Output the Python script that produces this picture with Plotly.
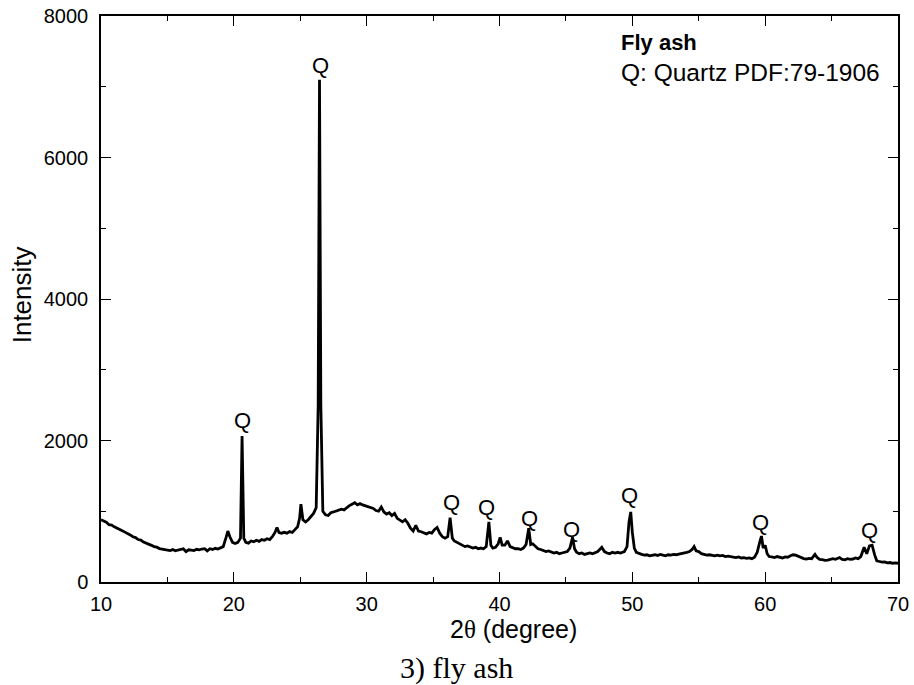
import plotly.graph_objects as go

# XRD pattern of fly ash (2theta in degrees, intensity in counts)
two_theta = [
    10.0, 10.2, 10.4, 10.6, 10.8, 11.0, 11.2, 11.4, 11.6, 11.8,
    12.0, 12.2, 12.4, 12.6, 12.8, 13.0, 13.2, 13.4, 13.6, 13.8,
    14.0, 14.2, 14.4, 14.6, 14.8, 15.0, 15.2, 15.4, 15.6, 15.8,
    16.0, 16.2, 16.4, 16.6, 16.8, 17.0, 17.2, 17.4, 17.6, 17.8,
    18.0, 18.2, 18.4, 18.6, 18.8, 19.0, 19.2, 19.4, 19.55, 19.7,
    19.9, 20.1, 20.3, 20.5, 20.62, 20.75, 20.9, 21.1, 21.3, 21.5,
    21.7, 21.9, 22.1, 22.3, 22.5, 22.7, 22.9, 23.1, 23.25, 23.4,
    23.6, 23.8, 24.0, 24.2, 24.4, 24.6, 24.8, 24.95, 25.05, 25.2,
    25.4, 25.6, 25.8, 26.0, 26.2, 26.35, 26.45, 26.55, 26.7, 26.9,
    27.1, 27.3, 27.5, 27.7, 27.9, 28.1, 28.3, 28.5, 28.7, 28.9,
    29.1, 29.3, 29.5, 29.7, 29.9, 30.1, 30.3, 30.5, 30.7, 30.9,
    31.1, 31.3, 31.5, 31.7, 31.9, 32.1, 32.3, 32.5, 32.7, 32.9,
    33.1, 33.3, 33.5, 33.7, 33.9, 34.1, 34.3, 34.5, 34.7, 34.9,
    35.1, 35.3, 35.5, 35.7, 35.9, 36.1, 36.28, 36.45, 36.6, 36.8,
    37.0, 37.2, 37.4, 37.6, 37.8, 38.0, 38.2, 38.4, 38.6, 38.8,
    39.0, 39.2, 39.35, 39.5, 39.7, 39.9, 40.05, 40.2, 40.4, 40.6,
    40.8, 41.0, 41.2, 41.4, 41.6, 41.8, 42.0, 42.2, 42.35, 42.5,
    42.7, 42.9, 43.1, 43.3, 43.5, 43.7, 43.9, 44.1, 44.3, 44.5,
    44.7, 44.9, 45.1, 45.3, 45.5, 45.65, 45.8, 46.0, 46.2, 46.4,
    46.6, 46.8, 47.0, 47.2, 47.4, 47.7, 47.9, 48.1, 48.3, 48.5,
    48.7, 48.9, 49.1, 49.4, 49.6, 49.75, 49.88, 50.0, 50.15, 50.3,
    50.5, 50.7, 50.9, 51.1, 51.3, 51.5, 51.7, 51.9, 52.1, 52.3,
    52.5, 52.7, 52.9, 53.1, 53.3, 53.5, 53.7, 53.9, 54.1, 54.3,
    54.5, 54.65, 54.8, 55.0, 55.2, 55.4, 55.6, 55.8, 56.0, 56.2,
    56.4, 56.6, 56.8, 57.0, 57.2, 57.4, 57.6, 57.8, 58.0, 58.2,
    58.4, 58.6, 58.8, 59.0, 59.2, 59.4, 59.6, 59.72, 59.85, 60.0,
    60.15, 60.3, 60.5, 60.7, 60.9, 61.1, 61.3, 61.5, 61.7, 61.9,
    62.1, 62.3, 62.5, 62.7, 62.9, 63.1, 63.3, 63.5, 63.75, 63.9,
    64.1, 64.3, 64.5, 64.7, 64.9, 65.1, 65.3, 65.6, 65.8, 66.0,
    66.2, 66.4, 66.6, 66.8, 67.0, 67.2, 67.45, 67.65, 67.85, 68.05,
    68.25, 68.4, 68.6, 68.8, 69.0, 69.2, 69.4, 69.6, 69.8, 70.0,
]
intensity = [
    880, 860, 845, 810, 805, 780, 765, 745, 725, 705,
    690, 665, 640, 628, 600, 592, 565, 552, 530, 518,
    500, 492, 472, 465, 455, 452, 445, 458, 440, 452,
    460, 470, 428, 455, 450, 445, 462, 455, 466, 472,
    440, 470, 460, 476, 465, 480, 500, 620, 720, 640,
    560, 545, 560, 620, 2064, 620, 560, 550, 580, 570,
    590, 575, 600, 590, 612, 600, 640, 700, 770, 700,
    690, 702, 690, 712, 700, 740, 780, 900, 1100, 880,
    850, 880, 920, 970, 1050, 2500, 7100, 2500, 1000, 950,
    940, 980, 990, 1002, 1012, 1030, 1020, 1052, 1080, 1100,
    1120, 1090, 1110, 1090, 1080, 1070, 1050, 1040, 1010, 1000,
    1060, 990, 960, 980, 940, 970, 900, 880, 850, 880,
    830, 760, 720, 800, 720, 710, 700, 680, 700, 690,
    740, 770, 690, 640, 620, 640, 910, 620, 580, 560,
    540, 520, 500, 510, 490, 480, 490, 470, 480, 470,
    500, 850, 520, 480, 490, 540, 630, 520, 520, 580,
    500, 480, 470, 472, 460, 480, 530, 760, 530, 540,
    500, 470, 460, 450, 430, 440, 420, 410, 420, 400,
    410, 420, 430, 480, 630, 470, 420, 400, 410, 390,
    400, 410, 400, 410, 430, 490, 430, 410, 400, 420,
    410, 420, 410, 430, 500, 850, 990, 700, 480, 420,
    400, 390, 380, 385, 370, 380, 385, 375, 390, 380,
    370, 385, 380, 390, 385, 395, 400, 410, 420, 430,
    460, 500, 440, 430, 400, 390, 380, 385, 375, 370,
    380, 370, 375, 360, 365, 355, 350, 345, 355, 340,
    345, 335, 340, 330, 350, 420, 570, 650, 480, 520,
    400, 360, 355, 345, 360, 350, 340, 355, 350, 370,
    385, 380, 360, 340, 330, 325, 335, 330, 390, 350,
    320, 315, 305, 310, 320, 330, 320, 345, 320, 315,
    330, 320, 325, 340, 330, 360, 490, 400, 510, 520,
    380, 300, 290, 280, 285, 270, 275, 265, 270, 265,
]

# Quartz peak labels ("Q") positions
q_x = [20.64, 26.49, 36.41, 38.99, 42.23, 45.45, 49.76, 59.67, 67.85]
q_y = [2285, 7300, 1117, 1051, 896, 740, 1225, 848, 731]

x_ticks = [10, 20, 30, 40, 50, 60, 70]
y_ticks = [0, 2000, 4000, 6000, 8000]

SANS = "Liberation Sans, Arial, sans-serif"

fig = go.Figure()
fig.add_trace(go.Scatter(
    x=two_theta, y=intensity, mode="lines",
    line=dict(color="black", width=2.8),
    showlegend=False, hoverinfo="skip",
))

for qx, qy in zip(q_x, q_y):
    fig.add_annotation(x=qx, y=qy, text="Q", showarrow=False,
                       font=dict(family=SANS, size=22, color="black"),
                       xanchor="center", yanchor="middle")

fig.add_annotation(x=49.0, y=7628, text="<b>Fly ash</b>", showarrow=False,
                   xanchor="left", yanchor="middle",
                   font=dict(family=SANS, size=22, color="black"))
fig.add_annotation(x=49.0, y=7204, text="Q: Quartz PDF:79-1906", showarrow=False,
                   xanchor="left", yanchor="middle",
                   font=dict(family=SANS, size=24.5, color="black"))

# axis titles and caption
fig.add_annotation(xref="paper", yref="paper", x=(513 - 101) / 797, y=-(629 - 581.7) / 566,
                   text="2<span style='font-family:Liberation Serif'>θ</span> (degree)",
                   showarrow=False, xanchor="center", yanchor="middle",
                   font=dict(family=SANS, size=25, color="black"))
fig.add_annotation(xref="paper", yref="paper", x=(456 - 101) / 797, y=-(668 - 581.7) / 566,
                   text="3) fly ash", showarrow=False, xanchor="center", yanchor="middle",
                   font=dict(family="Liberation Serif, Times New Roman, serif", size=30, color="black"))
fig.add_annotation(xref="paper", yref="paper", x=-(101 - 22) / 797, y=(581.7 - 295) / 566,
                   text="Intensity", textangle=-90, showarrow=False,
                   xanchor="center", yanchor="middle",
                   font=dict(family=SANS, size=26, color="black"))

axis_common = dict(
    showgrid=False, zeroline=False, showline=True, linecolor="black", linewidth=1.5,
    mirror="allticks", ticks="inside", ticklen=10, tickwidth=1.3, tickcolor="black",
    tickfont=dict(family=SANS, size=20, color="black"), automargin=False,
)
fig.update_xaxes(range=[10, 70], tickmode="array", tickvals=x_ticks,
                 ticktext=[str(v) for v in x_ticks], ticklabelstandoff=3,
                 minor=dict(ticks="inside", ticklen=5, dtick=5, tick0=0,
                            tickcolor="black", tickwidth=1.2, showgrid=False),
                 **axis_common)
fig.update_yaxes(range=[0, 8000], tickmode="array", tickvals=y_ticks,
                 ticktext=[str(v) for v in y_ticks], ticklabelstandoff=7,
                 minor=dict(ticks="inside", ticklen=5, dtick=1000, tick0=0,
                            tickcolor="black", tickwidth=1.2, showgrid=False),
                 **axis_common)

fig.update_layout(
    width=914, height=685,
    margin=dict(l=101, r=16, t=16, b=103),
    paper_bgcolor="white", plot_bgcolor="white",
    showlegend=False,
)

fig.write_html("out.html")
